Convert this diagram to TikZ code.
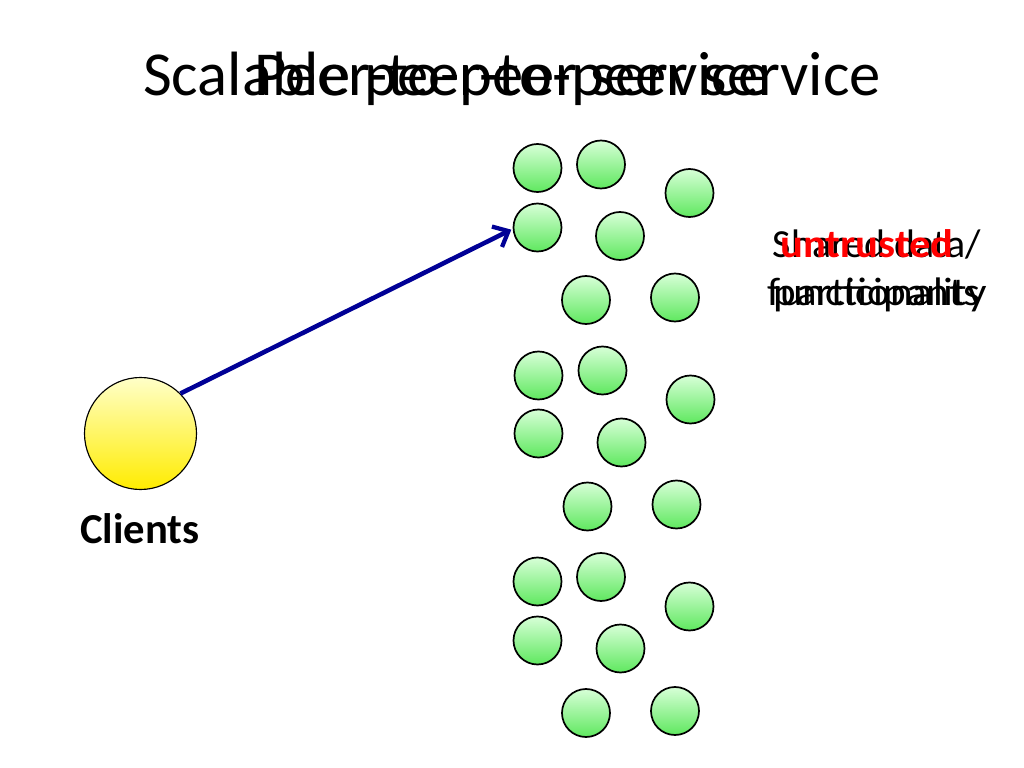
\documentclass[tikz,border=0pt]{standalone}
\usepackage{fontspec}
\setmainfont{Carlito}
\usetikzlibrary{arrows.meta}
\definecolor{navyarrow}{RGB}{0,0,150}
\definecolor{gtop}{RGB}{215,255,215}
\definecolor{gbot}{RGB}{95,232,95}
\definecolor{ytop}{RGB}{255,255,200}
\definecolor{ybot}{RGB}{255,236,0}
\definecolor{redtxt}{RGB}{255,0,0}
\tikzset{
  gc/.style={circle, draw=black, line width=1.2bp, minimum size=48*0.703125bp, inner sep=0pt,
    top color=gtop, bottom color=gbot},
  yc/.style={circle, draw=black, line width=0.8bp, minimum size=112*0.703125bp, inner sep=0pt,
    top color=ytop, bottom color=ybot},
  titletxt/.style={anchor=base, inner sep=0pt, font=\fontsize{44bp}{52.8bp}\selectfont},
  bodytxt/.style={anchor=base, inner sep=0pt, font=\fontsize{28bp}{33.6bp}\selectfont},
  arr/.style={draw=navyarrow, line width=3.2bp, -{Straight Barb[length=9bp,width=16bp,line width=3bp]}}
}
\begin{document}
\begin{tikzpicture}[x=0.703125bp, y=-0.703125bp]
\useasboundingbox[fill=white] (0,0) rectangle (1024,768);
% titles (overlapping)
\node[titletxt] (t1) at (512,95) {Scalable peer-to-peer service};
\node[titletxt] (t2) at (512,95) {Peer-to-peer service};
% clients
\node[yc] (cl) at (140.5,433.5) {};
\node[bodytxt, font=\fontsize{30bp}{36bp}\selectfont\bfseries] (cll) at (140,543) {Clients};
% group 1
\node[gc] (a1) at (537.5,168) {};
\node[gc] (a2) at (601,164.5) {};
\node[gc] (a3) at (689.5,193) {};
\node[gc] (a4) at (537.5,227.5) {};
\node[gc] (a5) at (620,236) {};
\node[gc] (a6) at (586,300) {};
\node[gc] (a7) at (675,297.5) {};
% group 2
\node[gc] (b1) at (538.5,375.5) {};
\node[gc] (b2) at (602.5,370.5) {};
\node[gc] (b3) at (690.5,399.5) {};
\node[gc] (b4) at (538.5,433.5) {};
\node[gc] (b5) at (621.5,442.5) {};
\node[gc] (b6) at (587.5,506.5) {};
\node[gc] (b7) at (676.5,504.5) {};
% group 3
\node[gc] (c1) at (537.5,581.5) {};
\node[gc] (c2) at (601,577) {};
\node[gc] (c3) at (689.5,606.5) {};
\node[gc] (c4) at (537.5,640.5) {};
\node[gc] (c5) at (620.5,648.5) {};
\node[gc] (c6) at (586,713) {};
\node[gc] (c7) at (675,711) {};
% arrow
\draw[arr] (cl.45) -- ([xshift=-1bp]a4.185);
% right text (overlapping)
\node[bodytxt] (r1) at (877,257) {Shared data/};
\node[bodytxt, xscale=1.08] (r2) at (877,305) {functionality};
\node[bodytxt, xscale=1.07, text=redtxt, font=\fontsize{28bp}{33.6bp}\selectfont\bfseries] (r3) at (867,257) {untrusted};
\node[bodytxt, xscale=1.08] (r4) at (877,305) {participants};
\end{tikzpicture}
\end{document}
